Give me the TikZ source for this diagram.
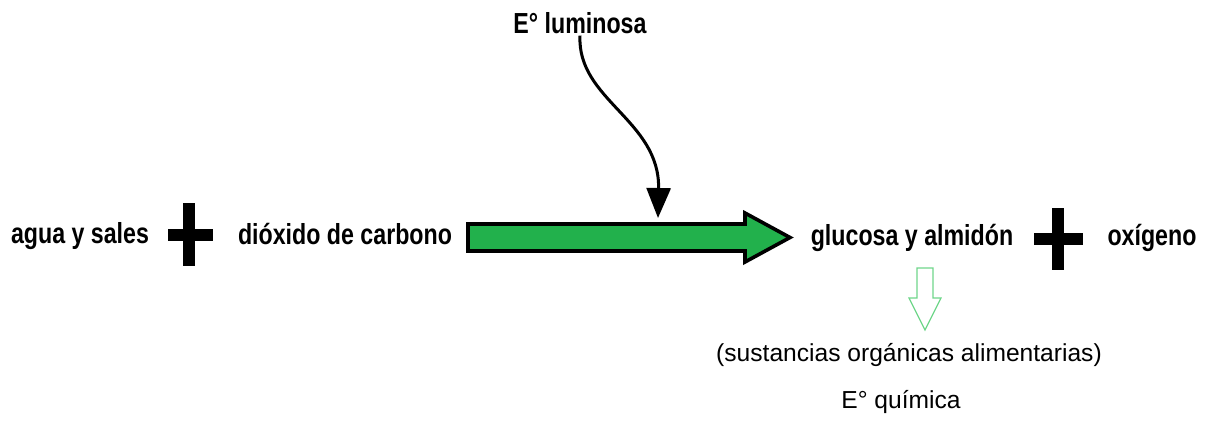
\documentclass[tikz,border=0pt]{standalone}
\usepackage{fontspec}
\setmainfont{Liberation Sans}
\newfontfamily\narrowfont[FakeStretch=0.8]{Liberation Sans}
\usetikzlibrary{arrows.meta}
\definecolor{leafgreen}{HTML}{22B14C}
\definecolor{palegreen}{HTML}{6FD68A}

\begin{document}
\begin{tikzpicture}[x=0.5pt,y=-0.5pt,
  term/.style={anchor=base,inner sep=1pt,font=\narrowfont\bfseries\fontsize{14.5}{16}\selectfont},
  note/.style={anchor=base,inner sep=1pt,font=\fontsize{12.3}{14}\selectfont},
  plussign/.style={line width=6pt}]
\useasboundingbox (0,0) rectangle (1212,420);
% reactants and products
\node[term] (water) at (80,243) {agua y sales};
\node[term] (co2) at (345,244) {dióxido de carbono};
\node[term] (glucose) at (912,245) {glucosa y almidón};
\node[term] (oxygen) at (1152,245) {oxígeno};
\node[term] (light) at (580,33) {E° luminosa};
\node[note] (organic) at (909,361) {(sustancias orgánicas alimentarias)};
\node[note] (chem) at (901,408) {E° química};
% plus signs
\draw[plussign] (168,235) -- (213,235) (189,203) -- (189,266);
\draw[plussign] (1034,239) -- (1083,239) (1058,208) -- (1058,270);
% reaction arrow
\draw[line width=1.8pt,fill=leafgreen,line join=miter]
  (468,224) -- (745,224) -- (745,213) -- (790,237.5) -- (745,262) -- (745,251) -- (468,251) -- cycle;
% light energy input
\coordinate (hit) at (658,218);
\draw[line width=1.5pt,-{Triangle[length=15pt,width=12pt]}]
  (light.south) .. controls (577,100) and (660,120) .. (hit);
% chemical energy output
\draw[palegreen,line width=0.6pt]
  (917,268) -- (933,268) -- (933,298) -- (941,298) -- (925,330) -- (909,298) -- (917,298) -- cycle;
\end{tikzpicture}
\end{document}
